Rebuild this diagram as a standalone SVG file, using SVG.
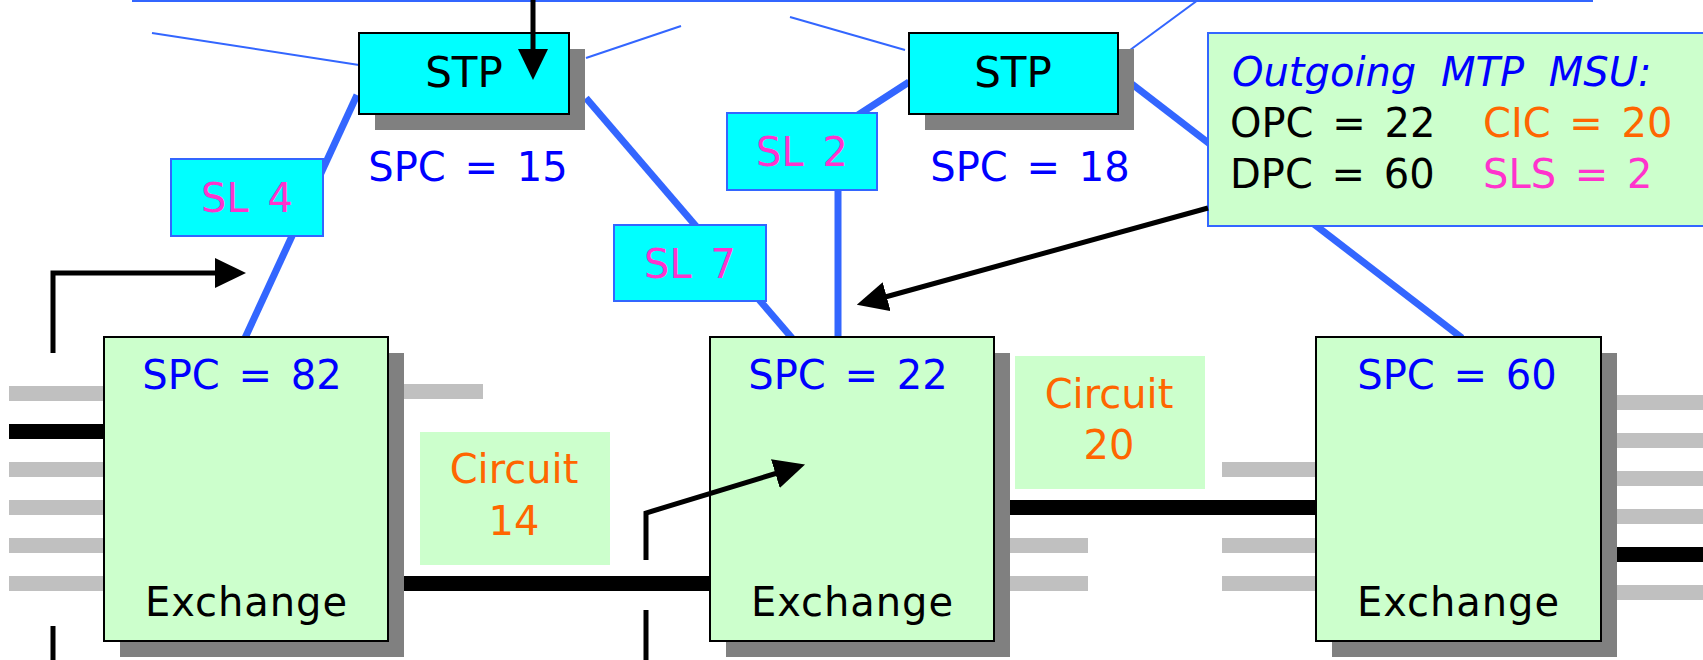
<svg xmlns="http://www.w3.org/2000/svg" width="1703" height="660" viewBox="0 0 1703 660">
<style>
text{font-family:"DejaVu Sans","Liberation Sans",sans-serif;font-size:40px;word-spacing:6px}
.mid{text-anchor:middle}
.blue{fill:#0000ff}
.mag{fill:#ff33cc}
.org{fill:#ff6600}
.blk{fill:#000000}
.thin{stroke:#3366ff;stroke-width:2;fill:none}
.thick{stroke:#3366ff;stroke-width:7;fill:none}
.arrow{stroke:#000;stroke-width:5;fill:none;marker-end:url(#ah)}
.shadow{fill:#808080}
.stp{fill:#00ffff;stroke:#000;stroke-width:2}
.sl{fill:#00ffff;stroke:#3366ff;stroke-width:2}
.exch{fill:#ccffcc;stroke:#000;stroke-width:2}
.stub{fill:#c0c0c0}
.trunk{fill:#000}
.circ{fill:#ccffcc}
</style>
<defs>
<marker id="ah" markerUnits="userSpaceOnUse" markerWidth="32" markerHeight="32" viewBox="0 0 32 32" refX="9" refY="15" orient="auto">
<path d="M0,0 L31,15 L0,30 z" fill="#000"/>
</marker>
</defs>
<rect width="1703" height="660" fill="#ffffff"/>

<g id="circuits">
<rect class="stub" x="9" y="386" width="95" height="15"/>
<rect class="trunk" x="9" y="424" width="95" height="15"/>
<rect class="stub" x="9" y="462" width="95" height="15"/>
<rect class="stub" x="9" y="500" width="95" height="15"/>
<rect class="stub" x="9" y="538" width="95" height="15"/>
<rect class="stub" x="9" y="576" width="95" height="15"/>
<rect class="stub" x="404" y="384" width="79" height="15"/>
<rect class="trunk" x="404" y="576" width="306" height="15"/>
<rect class="stub" x="1010" y="538" width="78" height="15"/>
<rect class="stub" x="1010" y="576" width="78" height="15"/>
<rect class="trunk" x="1010" y="500" width="306" height="15"/>
<rect class="stub" x="1222" y="462" width="94" height="15"/>
<rect class="stub" x="1222" y="538" width="94" height="15"/>
<rect class="stub" x="1222" y="576" width="94" height="15"/>
<rect class="stub" x="1617" y="395" width="86" height="15"/>
<rect class="stub" x="1617" y="433" width="86" height="15"/>
<rect class="stub" x="1617" y="471" width="86" height="15"/>
<rect class="stub" x="1617" y="509" width="86" height="15"/>
<rect class="trunk" x="1617" y="547" width="86" height="15"/>
<rect class="stub" x="1617" y="585" width="86" height="15"/>
</g>

<g id="links">
<rect class="thin" x="133" y="-60" width="1459" height="61"/>
<line class="thin" x1="152" y1="33" x2="359" y2="65"/>
<line class="thin" x1="586" y1="58" x2="681" y2="26"/>
<line class="thin" x1="790" y1="17" x2="905" y2="50"/>
<line class="thin" x1="1126" y1="53" x2="1198" y2="0"/>
<line class="thick" x1="357" y1="95" x2="245" y2="338"/>
<line class="thick" x1="586" y1="98" x2="792" y2="338"/>
<polyline class="thick" points="909,82 838,128 838,338"/>
<line class="thick" x1="1128" y1="81" x2="1462" y2="338"/>
</g>

<g id="stp15">
<rect class="shadow" x="375" y="49" width="210" height="81"/>
<rect class="stp" x="359" y="33" width="210" height="81"/>
<text class="blk mid" x="464" y="87" style="font-size:42px">STP</text>
<text class="blue mid" x="468" y="181">SPC = 15</text>
</g>
<g id="stp18">
<rect class="shadow" x="925" y="49" width="209" height="81"/>
<rect class="stp" x="909" y="33" width="209" height="81"/>
<text class="blk mid" x="1013" y="87" style="font-size:42px">STP</text>
<text class="blue mid" x="1030" y="181">SPC = 18</text>
</g>

<g id="sl4">
<rect class="sl" x="171" y="159" width="152" height="77"/>
<text class="mag mid" x="247" y="212">SL 4</text>
</g>
<g id="sl7">
<rect class="sl" x="614" y="225" width="152" height="76"/>
<text class="mag mid" x="690" y="278">SL 7</text>
</g>
<g id="sl2">
<rect class="sl" x="727" y="113" width="150" height="77"/>
<text class="mag mid" x="802" y="166">SL 2</text>
</g>

<g id="exchange82">
<rect class="shadow" x="120" y="353" width="284" height="304"/>
<rect class="exch" x="104" y="337" width="284" height="304"/>
<text class="blue mid" x="242" y="389">SPC = 82</text>
<text class="blk mid" x="246" y="616" textLength="202">Exchange</text>
</g>
<g id="exchange22">
<rect class="shadow" x="726" y="353" width="284" height="304"/>
<rect class="exch" x="710" y="337" width="284" height="304"/>
<text class="blue mid" x="848" y="389">SPC = 22</text>
<text class="blk mid" x="852" y="616" textLength="202">Exchange</text>
</g>
<g id="exchange60">
<rect class="shadow" x="1332" y="353" width="285" height="304"/>
<rect class="exch" x="1316" y="337" width="285" height="304"/>
<text class="blue mid" x="1457" y="389">SPC = 60</text>
<text class="blk mid" x="1458" y="616" textLength="202">Exchange</text>
</g>

<g id="circuit14">
<rect class="circ" x="420" y="432" width="190" height="133"/>
<text class="org mid" x="514" y="483">Circuit</text>
<text class="org mid" x="514" y="535">14</text>
</g>
<g id="circuit20">
<rect class="circ" x="1015" y="356" width="190" height="133"/>
<text class="org mid" x="1109" y="408">Circuit</text>
<text class="org mid" x="1109" y="459">20</text>
</g>

<g id="msu">
<rect class="circ" x="1208" y="33" width="500" height="193" stroke="#3366ff" stroke-width="2"/>
<text class="blue" x="1232" y="86" font-style="italic" style="word-spacing:12px">Outgoing MTP MSU:</text>
<text class="blk" x="1230" y="137">OPC = 22</text>
<text class="org" x="1483" y="137">CIC = 20</text>
<text class="blk" x="1230" y="188">DPC = 60</text>
<text class="mag" x="1483" y="188">SLS = 2</text>
</g>

<g id="arrows">
<line class="arrow" x1="533" y1="0" x2="533" y2="58"/>
<polyline class="arrow" points="53,353 53,273 224,273"/>
<polyline class="arrow" points="646,560 646,513 784,471"/>
<line class="arrow" x1="1208" y1="208" x2="878" y2="299"/>
<line stroke="#000" stroke-width="5" x1="53" y1="626" x2="53" y2="660"/>
<line stroke="#000" stroke-width="5" x1="646" y1="610" x2="646" y2="660"/>
</g>
</svg>
